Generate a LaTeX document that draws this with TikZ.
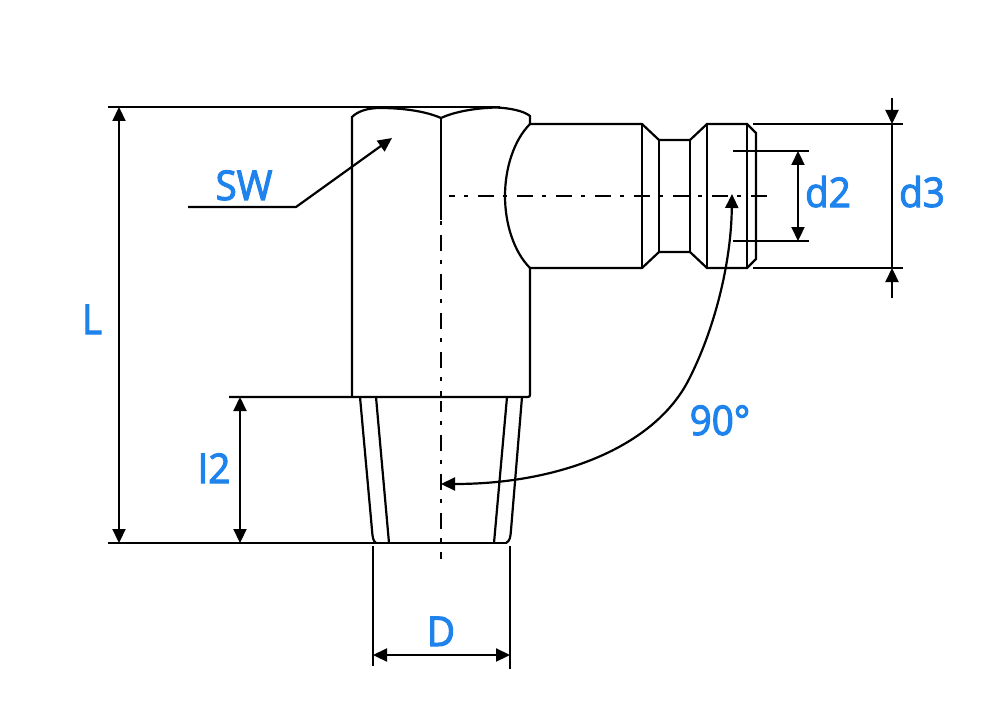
\documentclass[tikz,border=0pt]{standalone}
\usepackage{fontspec}
\setmainfont{Open Sans}
\newfontfamily\labfont[FakeBold=2.5,FakeStretch=0.94]{Open Sans}
\usetikzlibrary{arrows.meta}
\definecolor{lab}{HTML}{1E83EC}
\tikzset{
  ln/.style={line width=2.2pt,line cap=butt,line join=miter,black},
  dim/.style={ln,{Triangle[length=14pt,width=13pt]}-{Triangle[length=14pt,width=13pt]}},
  dimend/.style={ln,-{Triangle[length=14pt,width=13pt]}},
  ctr/.style={ln,dash pattern=on 16pt off 9pt on 4pt off 10pt},
  lab/.style={text=lab,font=\labfont\fontsize{41}{41}\selectfont,anchor=base,inner sep=0pt,outer sep=0pt}
}
\begin{document}
\begin{tikzpicture}[x=1pt,y=-1pt]
\useasboundingbox (0,0) rectangle (1000,714);
\fill[white] (0,0) rectangle (1000,714);
% named reference points
\coordinate (Ltop) at (119,107);
\coordinate (Lbot) at (119,543);
\coordinate (ltop) at (240,397);
\coordinate (lbot) at (240,543);
\coordinate (Dl) at (373,655);
\coordinate (Dr) at (510,655);
\coordinate (d2t) at (798,151);
\coordinate (d2b) at (798,241);
\coordinate (d3t) at (892,124);
\coordinate (d3b) at (892,268);
\coordinate (d3a) at (892,98);
\coordinate (d3c) at (892,298);
\coordinate (sw0) at (188,207);
\coordinate (sw1) at (296,207);
\coordinate (sw2) at (392,138);
\coordinate (a90) at (732,194);
\coordinate (a90m) at (687,383);
\coordinate (a90e) at (441,484);
% body
\draw[ln] (108,107) -- (500,107);
\draw[ln] (352,397) -- (352,117)
  .. controls (358,111) and (368,108) .. (380,108)
  .. controls (402,108) and (425,111) .. (441,118)
  .. controls (456,111) and (478,108) .. (496,107.5)
  .. controls (510,108) and (524,111) .. (530,116) -- (530,124);
\draw[ln] (441,118) -- (441,220);
\draw[ln] (530,124) .. controls (514,140) and (505,168) .. (505,196)
  .. controls (505,224) and (514,252) .. (530,268);
\draw[ln] (530,124) -- (642,124) -- (659,140) -- (690,140) -- (707,124) -- (747,124) -- (756,133) -- (756,259) -- (747,268) -- (707,268) -- (690,252) -- (659,252) -- (642,268) -- (530,268);
\draw[ln] (642,124) -- (642,268);
\draw[ln] (659,140) -- (659,252);
\draw[ln] (690,140) -- (690,252);
\draw[ln] (707,124) -- (707,268);
\draw[ln] (747,124) -- (747,268);
\draw[ln] (530,268) -- (530,394.5) .. controls (530,396) and (529.5,397) .. (528,397) -- (229,397);
% taper
\draw[ln] (360,397) -- (372,530) .. controls (372.5,537) and (373,541) .. (376,543);
\draw[ln] (376,397) -- (389,543);
\draw[ln] (507,397) -- (494,543);
\draw[ln] (522,397) -- (511,530) .. controls (510.5,537) and (510,541) .. (506,543);
\draw[ln] (108,543) -- (507,543);
% centre lines
\draw[ctr,dash phase=10pt] (449,196) -- (768,196);
\draw[ctr,dash phase=25pt] (441,221) -- (441,397);
\draw[ctr,dash phase=5pt] (441,401) -- (441,559);
% extension lines
\draw[ln] (373,546) -- (373,666);
\draw[ln] (510,546) -- (510,669);
\draw[ln] (733,151) -- (809,151);
\draw[ln] (733,241) -- (809,241);
\draw[ln] (753,124) -- (903,124);
\draw[ln] (753,268) -- (903,268);
% dimension arrows
\draw[dim] (Ltop) -- (Lbot);
\draw[dim] (ltop) -- (lbot);
\draw[dim] (Dl) -- (Dr);
\draw[dim] (d2t) -- (d2b);
\draw[ln] (d3t) -- (d3b);
\draw[dimend] (d3a) -- (d3t);
\draw[dimend] (d3c) -- (d3b);
\draw[dimend] (sw0) -- (sw1) -- (sw2);
\draw[dim] (a90) .. controls (731,270) and (711,338) .. (a90m)
  .. controls (652,447) and (560,484) .. (a90e);
% labels
\node[lab] (tSW) at (244,200) {SW};
\node[lab] (tL) at (92,334) {L};
\node[lab] (tI) at (214,483) {I2};
\node[lab] (tD) at (441,646) {D};
\node[lab] (t90) at (720,435) {90°};
\node[lab] (td2) at (828,207) {d2};
\node[lab] (td3) at (922,207) {d3};
\end{tikzpicture}
\end{document}
